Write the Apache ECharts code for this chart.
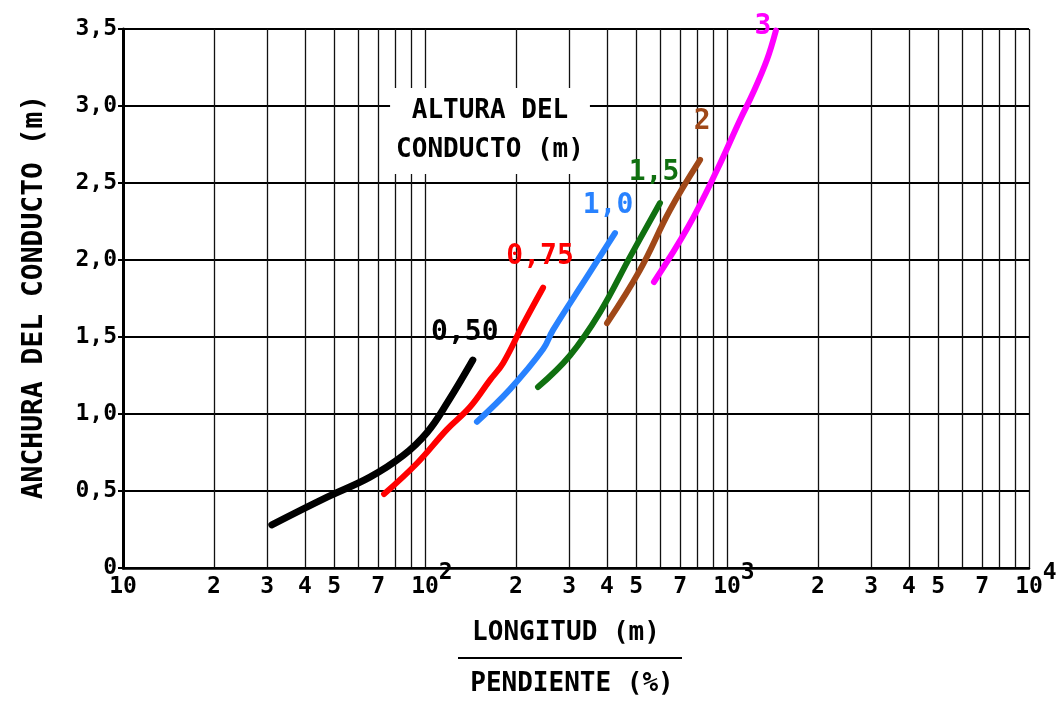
<!DOCTYPE html>
<html><head><meta charset="utf-8">
<script src="https://cdn.jsdelivr.net/npm/echarts@6/dist/echarts.min.js"></script>
<style>html,body{margin:0;padding:0;background:#fff}#c{width:1062px;height:702px}</style>
</head><body><div id="c"></div>
<script>
// ---- data ----
const yTickValues = [0, 0.5, 1, 1.5, 2, 2.5, 3, 3.5];
const xGridValues = [10,20,30,40,50,60,70,80,90,100,200,300,400,500,600,700,800,900,1000,2000,3000,4000,5000,6000,7000,8000,9000,10000];
const xLabelValues = [10,20,30,40,50,70,100,200,300,400,500,700,1000,2000,3000,4000,5000,7000,10000];
const curveNames = ['0,50', '0,75', '1,0', '1,5', '2', '3'];

const x050 = [31.1, 47.4, 65.7, 84.6, 101.6, 118.3, 144];
const y050 = [0.28, 0.46, 0.59, 0.73, 0.88, 1.07, 1.35];
const x075 = [73.2, 94.1, 118.3, 140.9, 164.1, 181.3, 211, 246];
const y075 = [0.48, 0.68, 0.90, 1.045, 1.22, 1.33, 1.58, 1.82];
const x100 = [148.6, 191, 245.9, 265.3, 343.8, 425.6];
const y100 = [0.95, 1.16, 1.42, 1.545, 1.89, 2.175];
const x150 = [236.7, 302, 379.6, 477.5, 600];
const y150 = [1.175, 1.38, 1.66, 2.02, 2.37];
const x200 = [400.6, 515, 647.6, 814.3];
const y200 = [1.59, 1.935, 2.325, 2.65];
const x300 = [573, 743, 926.8, 1104, 1219, 1356, 1452];
const y300 = [1.857, 2.214, 2.584, 2.909, 3.084, 3.30, 3.49];

const curveX = [x050, x075, x100, x150, x200, x300];
const curveY = [y050, y075, y100, y150, y200, y300];

// ---- styles ----
const colors = ['#000000', '#ff0000', '#2882ff', '#107010', '#a04818', '#ff00ff'];
const widths = [7, 6, 6, 6, 6, 6];
const labelOffsets = [[-8, -27], [-3, -31], [-7, -27], [-6, -30], [2, -38], [-13, -4]];
const MONO = '"DejaVu Sans Mono", monospace';
const TITLE_FONT = 'bold 26px "DejaVu Sans Mono", monospace';

function fmtX(v) {
  const r = Math.round(v);
  if (r === 10) return '\n10';
  const e = Math.round(Math.log10(r));
  if (Math.abs(Math.pow(10, e) - r) < 0.5) return '   ' + e + '\n 10 ';
  const d = r / Math.pow(10, Math.floor(Math.log10(r) + 1e-9));
  return '\n' + Math.round(d);
}

const series = curveNames.map((name, i) => ({
  name: name,
  type: 'line',
  data: curveX[i].map((x, j) => [x, curveY[i][j]]),
  smooth: 0.4,
  showSymbol: false,
  symbol: 'none',
  lineStyle: { color: colors[i], width: widths[i], cap: 'round' },
  endLabel: {
    show: true,
    formatter: name,
    color: colors[i],
    fontFamily: MONO,
    fontWeight: 'bold',
    fontSize: 28,
    align: 'center',
    verticalAlign: 'middle',
    distance: 0,
    offset: labelOffsets[i]
  },
  z: 5
}));

const chart = echarts.init(document.getElementById('c'), null, { renderer: 'canvas' });
chart.setOption({
  animation: false,
  backgroundColor: '#ffffff',
  grid: { left: 123, right: 33, top: 29, bottom: 134, containLabel: false },
  xAxis: {
    type: 'log',
    logBase: 10,
    min: 10,
    max: 10000,
    axisLine: { show: true, lineStyle: { color: '#000', width: 2.5 } },
    axisTick: { show: false, customValues: xGridValues },
    splitLine: { show: true, lineStyle: { color: '#111', width: 1.3 } },
    minorTick: { show: false },
    axisLabel: {
      customValues: xLabelValues,
      formatter: fmtX,
      fontFamily: MONO,
      fontWeight: 'bold',
      fontSize: 23,
      lineHeight: 14,
      color: '#000',
      margin: -2,
      showMinLabel: true,
      showMaxLabel: true,
      hideOverlap: false
    }
  },
  yAxis: {
    type: 'value',
    min: 0,
    max: 3.5,
    interval: 0.5,
    axisLine: { show: true, lineStyle: { color: '#000', width: 3 } },
    axisTick: { show: true, length: 5, lineStyle: { color: '#000', width: 2 } },
    splitLine: { show: true, lineStyle: { color: '#000', width: 2.2 } },
    axisLabel: {
      formatter: v => (v === 0 ? '0' : v.toFixed(1).replace('.', ',')),
      fontFamily: MONO,
      fontWeight: 'bold',
      fontSize: 23,
      color: '#000',
      margin: 6
    }
  },
  graphic: [
    {
      type: 'text', z: 10,
      x: 35, y: 297, rotation: Math.PI / 2,
      style: { text: 'ANCHURA DEL CONDUCTO (m)', font: 'bold 28px "DejaVu Sans Mono", monospace', fill: '#000', textAlign: 'center', textVerticalAlign: 'middle' }
    },
    {
      type: 'text', z: 10, x: 490, y: 131,
      style: { text: 'ALTURA DEL\nCONDUCTO (m)', font: TITLE_FONT, fill: '#000', textAlign: 'center', textVerticalAlign: 'middle', lineHeight: 39, backgroundColor: '#fff', padding: [4, 6] }
    },
    {
      type: 'text', z: 10, x: 566, y: 633,
      style: { text: 'LONGITUD (m)', font: TITLE_FONT, fill: '#000', textAlign: 'center', textVerticalAlign: 'middle' }
    },
    {
      type: 'line', z: 10, shape: { x1: 458, y1: 658, x2: 682, y2: 658 },
      style: { stroke: '#000', lineWidth: 2 }
    },
    {
      type: 'text', z: 10, x: 572, y: 684,
      style: { text: 'PENDIENTE (%)', font: TITLE_FONT, fill: '#000', textAlign: 'center', textVerticalAlign: 'middle' }
    }
  ],
  series: series
});
</script>
</body></html>
